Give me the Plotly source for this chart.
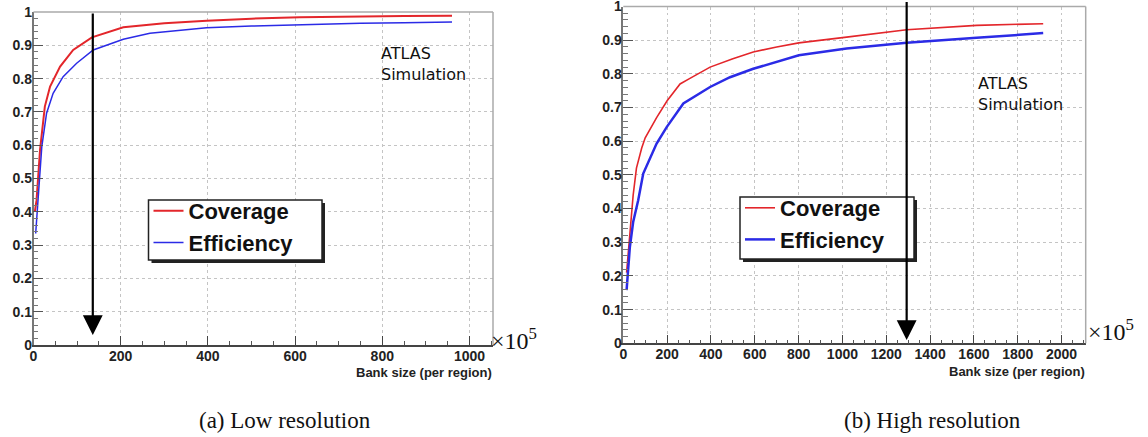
import plotly.graph_objects as go

# ---------------- data ----------------
# (a) Low resolution  (bank size in units of 1e5)
low_cov_x = [3, 7, 15, 26, 38, 61, 91, 134, 206, 300, 397, 500, 611, 750, 850, 960]
low_cov_y = [0.40, 0.435, 0.586, 0.716, 0.776, 0.836, 0.886, 0.924, 0.954, 0.966,
             0.974, 0.980, 0.984, 0.987, 0.988, 0.989]
low_eff_x = [5, 11, 19, 30, 45, 68, 99, 137, 206, 267, 397, 500, 611, 750, 850, 960]
low_eff_y = [0.335, 0.435, 0.595, 0.696, 0.756, 0.806, 0.846, 0.886, 0.918, 0.936,
             0.953, 0.958, 0.962, 0.966, 0.968, 0.970]

# (b) High resolution
high_cov_x = [15, 30, 45, 60, 84, 100, 152, 200, 259, 300, 396, 500, 593, 700, 801,
              1019, 1171, 1293, 1612, 1916]
high_cov_y = [0.21, 0.33, 0.44, 0.52, 0.58, 0.61, 0.67, 0.72, 0.77, 0.785, 0.82, 0.845,
              0.865, 0.88, 0.892, 0.909, 0.921, 0.931, 0.944, 0.949]
high_eff_x = [15, 30, 45, 61, 68, 91, 152, 198, 274, 396, 487, 593, 801, 1019, 1171,
              1293, 1612, 1916]
high_eff_y = [0.158, 0.286, 0.36, 0.405, 0.425, 0.504, 0.593, 0.642, 0.712, 0.761, 0.79,
              0.815, 0.855, 0.875, 0.884, 0.892, 0.907, 0.921]

series_names = ["Coverage", "Efficiency"]
low_arrow_x = 136
high_arrow_x = 1293
x_title = "Bank size (per region)"
captions = ["(a) Low resolution", "(b) High resolution"]
atlas_label = "ATLAS<br>Simulation"

# ---------------- styling ----------------
W, H = 1148, 437
RED = "#e3262b"
BLUE = "#2b2be6"

def px_x(p):
    return p / W

def px_y(p):
    return 1 - p / H

fig = go.Figure()

fig.add_trace(go.Scatter(x=low_cov_x, y=low_cov_y, mode="lines", name=series_names[0],
                         line=dict(color=RED, width=2), xaxis="x", yaxis="y",
                         legend="legend"))
fig.add_trace(go.Scatter(x=low_eff_x, y=low_eff_y, mode="lines", name=series_names[1],
                         line=dict(color=BLUE, width=1.5), xaxis="x", yaxis="y",
                         legend="legend"))
fig.add_trace(go.Scatter(x=high_cov_x, y=high_cov_y, mode="lines", name=series_names[0],
                         line=dict(color=RED, width=1.6), xaxis="x2", yaxis="y2",
                         legend="legend2"))
fig.add_trace(go.Scatter(x=high_eff_x, y=high_eff_y, mode="lines", name=series_names[1],
                         line=dict(color=BLUE, width=2.5), xaxis="x2", yaxis="y2",
                         legend="legend2"))

tickfont = dict(family="Liberation Sans", size=14, color="#222", weight="bold")

def xaxis(domain, rng, dtick, anchor):
    return dict(domain=domain, range=rng, anchor=anchor, dtick=dtick, tick0=0,
                ticks="inside", ticklen=9, tickcolor="#444", tickwidth=1,
                minor=dict(dtick=50, ticks="inside", ticklen=4, tickcolor="#555",
                           showgrid=False),
                showgrid=True, gridcolor="#c4c4c4", griddash="dot", gridwidth=1,
                showline=True, linecolor="#444", linewidth=1.5, zeroline=False,
                tickfont=tickfont, ticklabelstandoff=-3, fixedrange=True,
                automargin=False, ticklabeloverflow="allow")

def yaxis(domain, anchor):
    return dict(domain=domain, range=[0, 1], anchor=anchor, dtick=0.1, tick0=0,
                ticks="inside", ticklen=10, tickcolor="#555", tickwidth=1,
                minor=dict(dtick=0.02, ticks="inside", ticklen=5, tickcolor="#777",
                           showgrid=False),
                showgrid=True, gridcolor="#c4c4c4", griddash="dot", gridwidth=1,
                showline=True, linecolor="#777", linewidth=1.5, zeroline=False,
                tickfont=tickfont, ticklabelstandoff=-3, fixedrange=True,
                automargin=False, ticklabeloverflow="allow")

L_dom_x = [px_x(33.5), px_x(493)]
L_dom_y = [px_y(345), px_y(12)]
R_dom_x = [px_x(623.3), px_x(1085.7)]
R_dom_y = [px_y(343.3), px_y(6.5)]

legend_font = dict(family="Liberation Sans", size=22, color="#111", weight="bold")

fig.update_layout(
    width=W, height=H,
    margin=dict(l=0, r=0, t=0, b=0, autoexpand=False),
    paper_bgcolor="white", plot_bgcolor="white",
    xaxis=xaxis(L_dom_x, [0, 1054], 200, "y"),
    yaxis=yaxis(L_dom_y, "x"),
    xaxis2=xaxis(R_dom_x, [0, 2110], 200, "y2"),
    yaxis2=yaxis(R_dom_y, "x2"),
    legend=dict(x=px_x(148.5), y=px_y(190), xanchor="left", yanchor="top",
                bgcolor="rgba(0,0,0,0)", borderwidth=0,
                font=legend_font, tracegroupgap=0, itemwidth=30),
    legend2=dict(x=px_x(740), y=px_y(187), xanchor="left", yanchor="top",
                 bgcolor="rgba(0,0,0,0)", borderwidth=0,
                 font=legend_font, tracegroupgap=0, itemwidth=30),
    showlegend=True,
)

# frame top/right (light)
for xr, yr in (("x domain", "y domain"), ("x2 domain", "y2 domain")):
    fig.add_shape(type="line", xref=xr, yref=yr, x0=0, x1=1, y0=1, y1=1,
                  line=dict(color="#aaa", width=1.5), layer="above")
    fig.add_shape(type="line", xref=xr, yref=yr, x0=1, x1=1, y0=0, y1=1,
                  line=dict(color="#aaa", width=1.5), layer="above")

# legend boxes with drop shadow (ROOT style)
for (bx0, by0, bx1, by1) in ((148.5, 200, 322, 260), (740, 197, 914, 259)):
    fig.add_shape(type="rect", xref="paper", yref="paper",
                  x0=px_x(bx0 + 3), x1=px_x(bx1 + 3), y0=px_y(by1 + 3), y1=px_y(by0 + 3),
                  fillcolor="#222", line=dict(width=0), layer="above")
    fig.add_shape(type="rect", xref="paper", yref="paper",
                  x0=px_x(bx0), x1=px_x(bx1), y0=px_y(by1), y1=px_y(by0),
                  fillcolor="white", line=dict(color="#222", width=1.5), layer="above")

# arrows
fig.add_annotation(x=low_arrow_x, y=0.03, ax=low_arrow_x, ay=1.0,
                   xref="x", yref="y", axref="x", ayref="y", text="",
                   showarrow=True, arrowhead=2, arrowsize=1.8, arrowwidth=2.2,
                   arrowcolor="#000", standoff=0)
fig.add_annotation(x=high_arrow_x, y=0.01, ax=high_arrow_x, ay=1.018,
                   xref="x2", yref="y2", axref="x2", ayref="y2", text="",
                   showarrow=True, arrowhead=2, arrowsize=1.8, arrowwidth=2.2,
                   arrowcolor="#000", standoff=0)

# ATLAS labels
atlas_font = dict(family="DejaVu Sans", size=16, color="#111")
fig.add_annotation(x=px_x(379), y=px_y(42), xref="paper", yref="paper",
                   text=atlas_label, showarrow=False, xanchor="left", yanchor="top",
                   align="left", font=atlas_font)
fig.add_annotation(x=px_x(975.5), y=px_y(72), xref="paper", yref="paper",
                   text=atlas_label, showarrow=False, xanchor="left", yanchor="top",
                   align="left", font=atlas_font)

# x-axis titles
title_font = dict(family="Liberation Sans", size=13, color="#222", weight="bold")
fig.add_annotation(x=px_x(494), y=px_y(372), xref="paper", yref="paper",
                   text=x_title, showarrow=False, xanchor="right", yanchor="middle",
                   font=title_font)
fig.add_annotation(x=px_x(1087), y=px_y(371), xref="paper", yref="paper",
                   text=x_title, showarrow=False, xanchor="right", yanchor="middle",
                   font=title_font)

# x10^5 multipliers
mult_font = dict(family="Liberation Serif", size=24, color="#111")
fig.add_annotation(x=px_x(489), y=px_y(339), xref="paper", yref="paper",
                   text="×10<sup>5</sup>", showarrow=False, xanchor="left",
                   yanchor="middle", font=mult_font)
fig.add_annotation(x=px_x(1086), y=px_y(330), xref="paper", yref="paper",
                   text="×10<sup>5</sup>", showarrow=False, xanchor="left",
                   yanchor="middle", font=mult_font)

# captions
cap_font = dict(family="Liberation Serif", size=23, color="#111")
fig.add_annotation(x=px_x(285), y=px_y(420), xref="paper", yref="paper",
                   text=captions[0], showarrow=False, xanchor="center",
                   yanchor="middle", font=cap_font)
fig.add_annotation(x=px_x(932), y=px_y(420), xref="paper", yref="paper",
                   text=captions[1], showarrow=False, xanchor="center",
                   yanchor="middle", font=cap_font)

fig.write_html("out.html", config={"displayModeBar": False},
               post_script="document.body.style.margin='0';document.body.style.overflow='hidden';")
